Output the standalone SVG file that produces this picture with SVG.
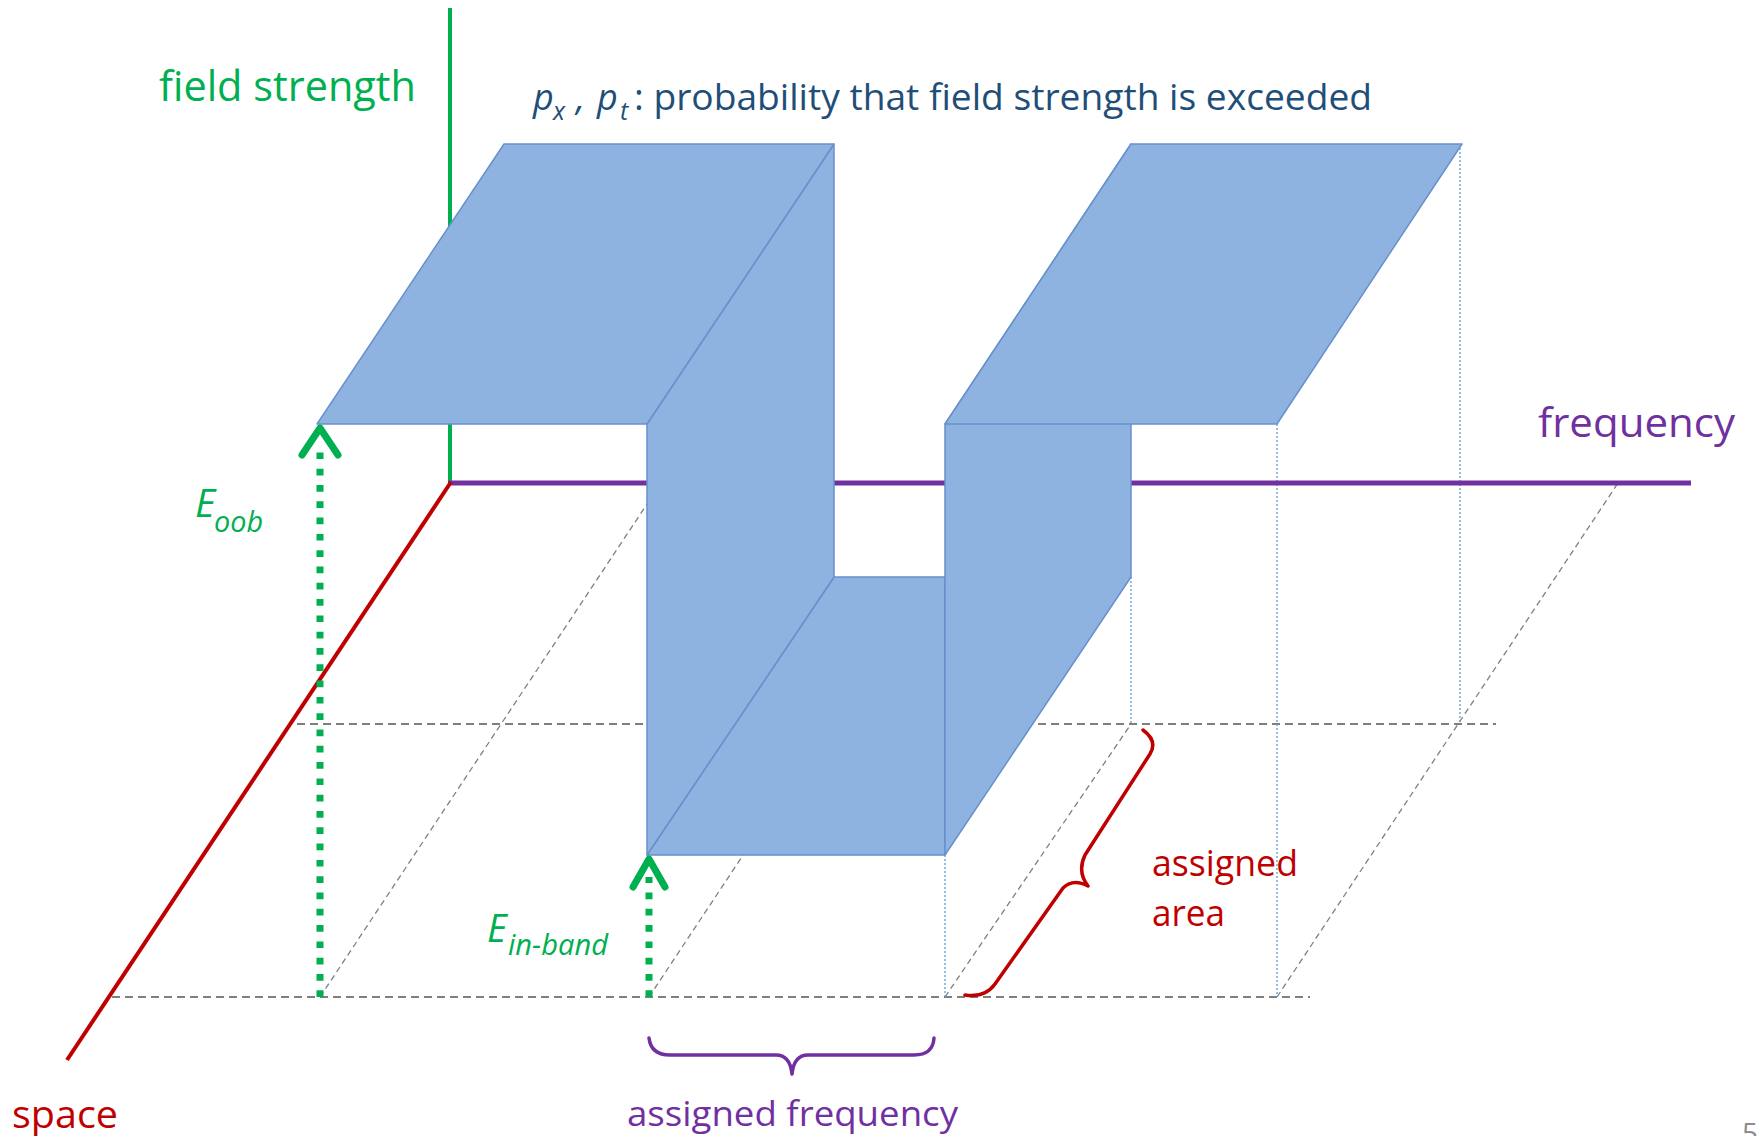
<svg xmlns="http://www.w3.org/2000/svg" width="1758" height="1136" viewBox="0 0 1758 1136">
<style>
text{font-family:"Open Sans","Noto Sans","Liberation Sans",sans-serif}
.gh{fill:none;stroke:#7F7F7F;stroke-width:1.9;stroke-dasharray:8 5}
.gd{fill:none;stroke:#7F7F7F;stroke-width:1.3;stroke-dasharray:6 4}
.bd{fill:none;stroke:#5B9BD5;stroke-width:1.3;stroke-dasharray:2 2}
.blk{fill:#8EB3E1;stroke:#6790CC;stroke-width:1.5;stroke-linejoin:round}
.arr{fill:none;stroke:#00B050;stroke-width:7}
.dot{stroke-dasharray:6.7 9.6}
.chev{stroke-linecap:round;stroke-linejoin:round}
.green{fill:#00B050}
.purple{fill:#7030A0}
.red{fill:#C00000}
.navy{fill:#1F4E79}
</style>
<rect width="1758" height="1136" fill="#ffffff"/>

<g id="grid">
  <line class="gh" x1="112" y1="997" x2="1310" y2="997"/>
  <line class="gh" x1="297" y1="724" x2="1496" y2="724"/>
  <line class="gd" x1="320" y1="997" x2="661" y2="483"/>
  <line class="gd" x1="649" y1="997" x2="830" y2="724"/>
  <line class="gd" x1="945" y1="997" x2="1131" y2="724"/>
  <line class="gd" x1="1277" y1="997" x2="1618" y2="483"/>
  <line class="bd" x1="945" y1="855" x2="945" y2="997"/>
  <line class="bd" x1="1131" y1="577" x2="1131" y2="724"/>
  <line class="bd" x1="1277" y1="424" x2="1277" y2="997"/>
  <line class="bd" x1="1460" y1="144" x2="1460" y2="724"/>
</g>

<g id="axes">
  <line id="axis-field" x1="450" y1="8" x2="450" y2="485" stroke="#00B050" stroke-width="4"/>
  <line id="axis-frequency" x1="448" y1="483" x2="1691" y2="483" stroke="#7030A0" stroke-width="5"/>
  <line id="axis-space" x1="451" y1="482" x2="67" y2="1060" stroke="#C00000" stroke-width="4"/>
</g>

<g id="mask-shape">
  <polygon id="floor" class="blk" points="647,855 834,577 945,577 945,855"/>
  <polygon id="left-wall" class="blk" points="647,424 834,144 834,577 647,855"/>
  <polygon id="left-plateau" class="blk" points="317,424 647,424 834,144 504,144"/>
  <polygon id="right-wall" class="blk" points="945,424 1131,144 1131,577 945,855"/>
  <polygon id="right-plateau" class="blk" points="945,424 1277,424 1462,144 1131,144"/>
</g>

<g id="arrows">
  <g id="arrow-oob">
    <path class="arr dot" d="M320,997 L320,445"/>
    <path class="arr chev" d="M302,455 L320,428 L338,455"/>
  </g>
  <g id="arrow-inband">
    <path class="arr dot" d="M649,997 L649,877"/>
    <path class="arr chev" d="M633,887 L649,859 L665,887"/>
  </g>
</g>

<g id="braces">
  <path id="brace-area" d="M1143,730 Q1158,741 1150,754 L1085,855 Q1077,872 1088,886 Q1073,878 1063,888 L995,984 Q985,998 965,995" fill="none" stroke="#C00000" stroke-width="3.5" stroke-linecap="round" stroke-linejoin="round"/>
  <path id="brace-frequency" d="M649,1038 Q651,1055 670,1055 L776,1055 Q790,1055 792,1074 Q794,1055 808,1055 L914,1055 Q933,1055 934,1038" fill="none" stroke="#7030A0" stroke-width="3.5" stroke-linecap="round" stroke-linejoin="round"/>
</g>

<g id="labels">
  <text class="green" x="159" y="101" font-size="42" textLength="257" lengthAdjust="spacingAndGlyphs">field strength</text>
  <g id="title" class="navy">
    <text x="533" y="110" font-size="36" font-style="italic">p</text>
    <text x="553" y="120" font-size="25" font-style="italic">x</text>
    <text x="576" y="110" font-size="36" font-style="italic">,</text>
    <text x="597" y="110" font-size="36" font-style="italic">p</text>
    <text x="620" y="120" font-size="25" font-style="italic">t</text>
    <text x="634" y="110" font-size="36" textLength="738" lengthAdjust="spacingAndGlyphs">: probability that field strength is exceeded</text>
  </g>
  <text class="purple" x="1538" y="437" font-size="40" textLength="197" lengthAdjust="spacingAndGlyphs">frequency</text>
  <g id="label-oob" class="green" font-style="italic">
    <text x="195" y="517" font-size="39">E</text>
    <text x="214" y="532" font-size="29" textLength="49" lengthAdjust="spacingAndGlyphs">oob</text>
  </g>
  <g id="label-inband" class="green" font-style="italic">
    <text x="487" y="942" font-size="38">E</text>
    <text x="508" y="955" font-size="29" textLength="100" lengthAdjust="spacingAndGlyphs">in-band</text>
  </g>
  <g id="label-area" class="red" font-size="36">
    <text x="1152" y="876" textLength="146" lengthAdjust="spacingAndGlyphs">assigned</text>
    <text x="1152" y="926" textLength="73" lengthAdjust="spacingAndGlyphs">area</text>
  </g>
  <text class="purple" x="627" y="1126" font-size="35" textLength="331" lengthAdjust="spacingAndGlyphs">assigned frequency</text>
  <text class="red" x="12" y="1128" font-size="38" textLength="106" lengthAdjust="spacingAndGlyphs">space</text>
  <text x="1742" y="1143" font-size="28" fill="#8C8C8C">5</text>
</g>
</svg>
